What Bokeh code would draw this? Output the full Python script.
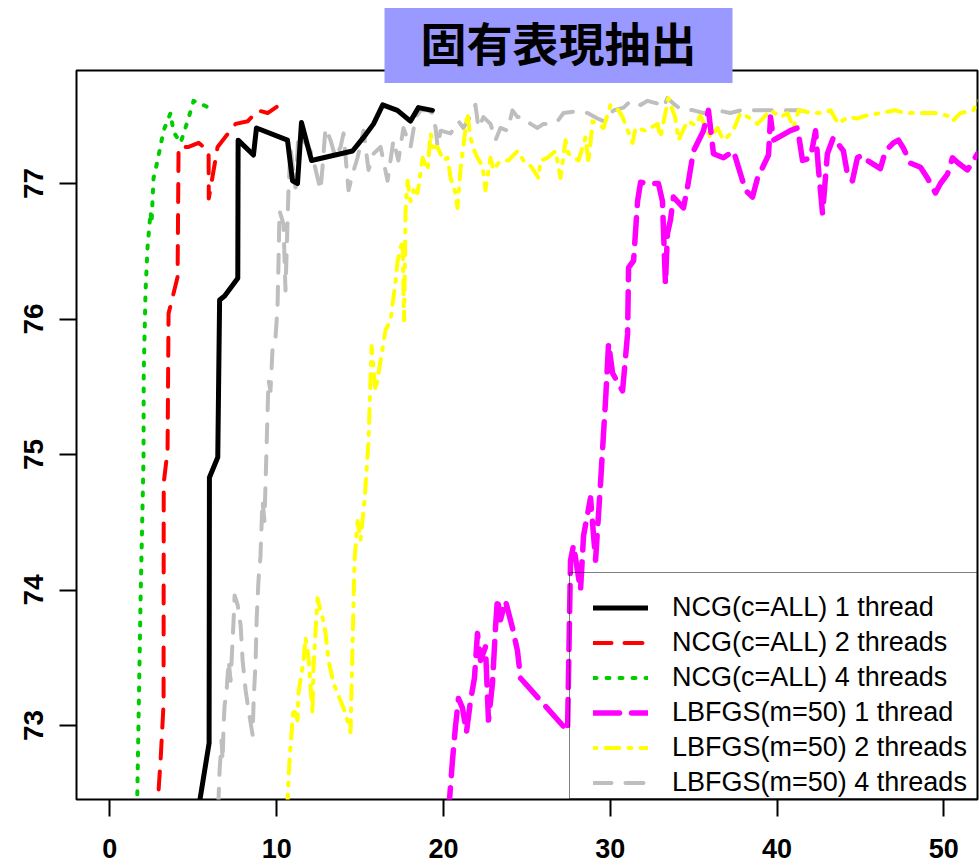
from bokeh.plotting import figure
from bokeh.models import Range1d, FixedTicker, Legend, LegendItem
from bokeh.embed import file_html
from bokeh.resources import INLINE

# ---------------- data ----------------
title_text = "固有表現抽出"
x_ticks = [0, 10, 20, 30, 40, 50]
y_ticks = [73, 74, 75, 76, 77]

labels = [
    "NCG(c=ALL) 1 thread",
    "NCG(c=ALL) 2 threads",
    "NCG(c=ALL) 4 threads",
    "LBFGS(m=50) 1 thread",
    "LBFGS(m=50) 2 threads",
    "LBFGS(m=50) 4 threads",
]

ncg1_x = [5.20, 5.95, 5.97, 6.47, 6.58, 6.88, 7.67, 7.69, 8.61, 8.79, 10.65, 10.95, 11.25,
          11.49, 12.09, 14.55, 15.21, 15.81, 16.36, 17.24, 18.02, 18.50, 19.34]
ncg1_y = [72.30, 72.87, 74.83, 74.98, 76.14, 76.17, 76.30, 77.32, 77.21, 77.41, 77.32, 77.02, 77.00,
          77.45, 77.17, 77.24, 77.34, 77.44, 77.58, 77.54, 77.46, 77.56, 77.54]

ncg2_x = [2.80, 3.04, 3.22, 3.23, 3.46, 3.52, 4.06, 4.12, 4.72, 5.32, 5.92, 5.93, 6.46, 7.54,
          8.27, 8.87, 9.46, 10.05, 10.35]
ncg2_y = [72.30, 72.74, 73.16, 74.79, 75.03, 76.04, 76.31, 77.27, 77.27, 77.30, 77.24, 76.89, 77.27,
          77.44, 77.46, 77.54, 77.52, 77.57, 77.53]

ncg4_x = [1.62, 1.84, 2.02, 2.03, 2.14, 2.26, 2.44, 2.50, 2.62, 2.86, 3.22, 3.64, 3.82, 4.24,
          4.66, 5.02, 5.44, 5.92]
ncg4_y = [72.30, 73.92, 74.98, 75.60, 76.21, 76.53, 76.79, 76.71, 77.04, 77.17, 77.39, 77.52, 77.38,
          77.30, 77.46, 77.61, 77.59, 77.56]

lbfgs1_x = [20.30, 20.54, 20.72, 20.90, 21.14, 21.38, 21.62, 21.86, 22.04, 22.22, 22.52, 22.70,
            22.94, 23.12, 23.24, 23.42, 23.72, 24.14, 24.44, 24.62, 27.44, 27.62, 27.80, 28.22,
            28.40, 28.82, 29.12, 29.42, 29.60, 29.72, 29.90, 30.14, 30.74, 31.04, 31.10, 31.40,
            31.64, 31.82, 32.24, 32.89, 33.13, 33.31, 33.43, 33.61, 33.79, 34.39, 34.63, 34.99,
            35.59, 35.89, 36.19, 36.79, 37.39, 38.11, 38.53, 38.83, 39.49, 39.61, 39.79, 40.80,
            41.23, 41.53, 42.01, 42.31, 42.49, 42.73, 43.02, 43.38, 43.98, 44.22, 44.52, 44.82,
            45.12, 45.42, 46.20, 46.50, 46.98, 47.28, 47.58, 48.00, 48.60, 49.02, 49.50, 49.80,
            50.22, 50.52, 50.88, 51.42, 52.02, 52.50]
lbfgs1_y = [72.35, 72.74, 72.99, 73.20, 73.13, 72.95, 73.18, 73.35, 73.68, 73.48, 73.58, 73.04,
            73.31, 73.72, 73.94, 73.78, 73.92, 73.72, 73.55, 73.35, 72.96, 74.22, 74.33, 74.00,
            74.40, 74.68, 74.22, 74.79, 75.16, 75.40, 75.82, 75.60, 75.47, 75.89, 76.38, 76.43,
            76.87, 77.01, 77.00, 77.00, 76.87, 76.26, 76.63, 76.73, 76.90, 76.82, 76.97, 77.24,
            77.39, 77.54, 77.22, 77.19, 77.24, 76.95, 76.90, 77.04, 77.21, 77.49, 77.32, 77.39,
            77.41, 77.17, 77.19, 77.39, 77.10, 76.78, 77.22, 77.34, 77.24, 77.07, 77.02, 77.19,
            77.21, 77.17, 77.11, 77.24, 77.30, 77.32, 77.26, 77.15, 77.12, 77.04, 76.93, 77.00,
            77.07, 77.19, 77.15, 77.10, 77.22, 77.20]

lbfgs2_x = [10.60, 10.77, 10.95, 11.01, 11.25, 11.31, 11.61, 11.73, 11.91, 12.15,
            12.21, 12.45, 12.63, 12.81, 12.93, 13.11, 13.41, 14.01, 14.31, 14.43,
            14.67, 14.85, 15.03, 15.27, 15.51, 15.69, 15.93, 16.23, 16.53, 16.83,
            17.13, 17.25, 17.55, 17.64, 17.73, 17.85, 18.03, 18.21, 18.45, 18.75,
            19.05, 19.23, 19.35, 19.64, 20.01, 20.25, 20.43, 20.72, 20.84, 21.02,
            21.44, 21.62, 21.86, 22.04, 22.34, 22.52, 22.82, 23.00, 23.30, 23.60,
            23.90, 24.44, 24.80, 25.10, 25.40, 25.70, 25.82, 26.24, 26.72, 27.02,
            27.32, 27.50, 28.10, 28.52, 28.70, 28.94, 29.60, 30.02, 30.50, 30.74,
            31.34, 31.52, 32.12, 32.84, 33.01, 33.49, 33.61, 33.91, 34.09, 34.63,
            35.11, 35.41, 36.01, 36.43, 36.79, 37.33, 37.81, 38.41, 38.83, 39.61,
            40.21, 40.63, 40.99, 41.29, 42.19, 42.79, 43.21, 43.68, 44.22, 44.82,
            45.30, 46.20, 47.10, 47.70, 48.60, 49.50, 50.22, 50.52, 51.00, 51.78,
            52.02, 52.50]
lbfgs2_y = [72.30, 72.74, 73.04, 73.13, 73.04, 73.24, 73.48, 73.65, 73.50, 73.09,
            73.44, 73.94, 73.85, 73.77, 73.68, 73.48, 73.31, 73.13, 73.01, 72.95,
            74.22, 74.51, 74.37, 74.66, 75.10, 75.80, 75.47, 75.69, 75.92, 75.99,
            76.28, 76.43, 76.58, 75.99, 76.80, 77.02, 76.87, 76.95, 76.93, 77.19,
            77.10, 77.37, 77.27, 77.27, 77.17, 77.19, 77.04, 76.93, 76.82, 77.10,
            77.52, 77.34, 77.24, 77.19, 77.13, 76.95, 77.19, 77.10, 77.15, 77.17,
            77.17, 77.24, 77.17, 77.15, 77.10, 77.04, 77.17, 77.19, 77.24, 77.04,
            77.32, 77.22, 77.17, 77.34, 77.15, 77.46, 77.41, 77.58, 77.54, 77.49,
            77.30, 77.41, 77.39, 77.44, 77.34, 77.63, 77.59, 77.48, 77.32, 77.46,
            77.43, 77.50, 77.34, 77.41, 77.32, 77.38, 77.52, 77.48, 77.44, 77.54,
            77.49, 77.52, 77.41, 77.54, 77.52, 77.52, 77.54, 77.44, 77.49, 77.48,
            77.50, 77.52, 77.54, 77.52, 77.52, 77.52, 77.50, 77.46, 77.52, 77.54,
            77.61, 77.62]

lbfgs4_x = [6.50, 6.58, 6.70, 6.76, 6.82, 6.88, 7.00, 7.12, 7.24, 7.36,
            7.42, 7.48, 7.66, 7.84, 7.96, 8.14, 8.32, 8.56, 8.62, 8.74,
            8.80, 8.91, 9.03, 9.15, 9.27, 9.39, 9.51, 9.63, 9.75, 9.93,
            10.05, 10.11, 10.17, 10.41, 10.53, 10.71, 10.83, 11.13, 11.31, 11.61,
            12.03, 12.21, 12.63, 12.75, 12.93, 13.23, 13.53, 13.83, 14.01, 14.31,
            14.55, 14.85, 15.21, 15.51, 15.81, 16.23, 16.65, 17.00, 17.30, 17.60,
            18.03, 18.33, 18.63, 19.05, 19.35, 19.53, 19.65, 19.83, 20.43, 20.90,
            21.20, 21.62, 21.92, 22.10, 22.40, 22.82, 23.12, 23.42, 23.84, 24.14,
            24.44, 24.80, 25.22, 25.64, 26.00, 26.42, 26.84, 27.20, 27.80, 28.64,
            29.24, 29.60, 30.20, 30.80, 31.22, 31.82, 32.24, 32.84, 33.19, 33.43,
            33.79, 34.21, 34.99, 35.59, 36.43, 37.21, 37.81, 39.01, 39.79, 41.29,
            42.19]
lbfgs4_y = [72.40, 72.67, 72.89, 72.74, 73.00, 73.15, 73.26, 73.48, 73.33, 73.63,
            73.78, 73.96, 73.89, 73.74, 73.48, 73.26, 73.11, 72.93, 73.18, 73.48,
            73.78, 74.07, 74.25, 74.66, 74.51, 75.03, 75.55, 75.47, 75.77, 75.86,
            76.08, 76.41, 76.80, 76.70, 76.21, 76.95, 77.26, 76.97, 77.37, 77.32,
            77.24, 77.17, 76.95, 77.12, 77.41, 77.32, 77.19, 77.27, 77.37, 76.95,
            77.07, 77.19, 77.39, 77.10, 77.22, 77.27, 77.02, 77.32, 77.17, 77.41,
            77.27, 77.49, 77.54, 77.54, 77.52, 77.41, 77.27, 77.39, 77.37, 77.46,
            77.41, 77.50, 77.58, 77.41, 77.49, 77.44, 77.32, 77.41, 77.39, 77.54,
            77.49, 77.49, 77.44, 77.41, 77.44, 77.44, 77.46, 77.52, 77.53, 77.52,
            77.48, 77.46, 77.54, 77.56, 77.61, 77.58, 77.61, 77.59, 77.56, 77.63,
            77.59, 77.55, 77.54, 77.52, 77.54, 77.52, 77.54, 77.54, 77.54, 77.54,
            77.52]

# ---------------- figure ----------------
p = figure(width=979, height=868,
           x_range=Range1d(-2.0, 52.02), y_range=Range1d(72.454, 77.834),
           output_backend="svg", toolbar_location=None, title=title_text,
           min_border_left=76, min_border_right=2, min_border_top=70, min_border_bottom=69)
p.background_fill_color = "white"
p.border_fill_color = "white"
p.grid.visible = False
p.outline_line_color = "black"
p.outline_line_width = 2
p.outline_line_alpha = 1.0

# title: a lavender box that hangs over the top edge of the frame
p.title.align = "left"
p.title.vertical_align = "bottom"
p.title.offset = 308
p.title.standoff = -25
p.title.text_font = "Noto Sans CJK JP"
p.title.text_font_style = "bold"
p.title.text_font_size = "46px"
p.title.text_color = "black"
p.title.background_fill_color = "#9999FF"
p.title.background_fill_alpha = 1.0
p.title.padding = dict(left=36, right=36, top=0, bottom=9)

for ax in (p.xaxis[0], p.yaxis[0]):
    ax.axis_line_color = None
    ax.major_tick_line_color = "black"
    ax.major_tick_line_width = 2
    ax.major_tick_out = 17
    ax.major_tick_in = 0
    ax.minor_tick_line_color = None
    ax.major_label_text_font = "Liberation Sans"
    ax.major_label_text_font_style = "bold"
    ax.major_label_text_color = "black"

p.xaxis[0].ticker = FixedTicker(ticks=x_ticks)
p.yaxis[0].ticker = FixedTicker(ticks=y_ticks)
p.xaxis[0].major_label_text_font_size = "27px"
p.yaxis[0].major_label_text_font_size = "28px"
p.xaxis[0].major_label_standoff = 22
p.yaxis[0].major_label_standoff = 16
p.yaxis[0].major_label_orientation = "vertical"

common = dict(line_cap="round", line_join="round")
r_l4 = p.line(lbfgs4_x, lbfgs4_y, line_color="#BEBEBE", line_width=4, line_dash="18 14", **common)
r_l2 = p.line(lbfgs2_x, lbfgs2_y, line_color="#FFFF00", line_width=4, line_dash="3 9 14 9", **common)
r_l1 = p.line(lbfgs1_x, lbfgs1_y, line_color="#FF00FF", line_width=5.5, line_dash="26 12", **common)
r_n4 = p.line(ncg4_x, ncg4_y, line_color="#00CD00", line_width=4, line_dash="3 10", **common)
r_n2 = p.line(ncg2_x, ncg2_y, line_color="#FF0000", line_width=4, line_dash="18 13", **common)
r_n1 = p.line(ncg1_x, ncg1_y, line_color="black", line_width=5, **common)

# invisible renderer that only carries the legend frame
r_blank = p.line([], [], line_alpha=0)

# legend frame
legend_box = Legend(items=[LegendItem(label=" ", renderers=[r_blank])], location=(493, 0))
legend_box.padding = 0
legend_box.margin = 0
legend_box.glyph_width = 10
legend_box.glyph_height = 225
legend_box.label_height = 225
legend_box.label_width = 420
legend_box.label_standoff = 0
legend_box.label_text_font_size = "10px"
legend_box.border_line_color = "black"
legend_box.border_line_width = 1
legend_box.background_fill_alpha = 0
p.add_layout(legend_box)

# legend entries
legend = Legend(items=[LegendItem(label=labels[0], renderers=[r_n1]),
                       LegendItem(label=labels[1], renderers=[r_n2]),
                       LegendItem(label=labels[2], renderers=[r_n4]),
                       LegendItem(label=labels[3], renderers=[r_l1]),
                       LegendItem(label=labels[4], renderers=[r_l2]),
                       LegendItem(label=labels[5], renderers=[r_l4])],
                location=(517, -1))
legend.padding = 0
legend.spacing = 0
legend.margin = 0
legend.label_height = 35
legend.glyph_height = 35
legend.glyph_width = 55
legend.label_standoff = 24
legend.label_text_font = "Liberation Sans"
legend.label_text_font_size = "27px"
legend.label_text_color = "black"
legend.border_line_color = None
legend.background_fill_alpha = 0
p.add_layout(legend)

open("out.html", "w").write(file_html(p, INLINE))
